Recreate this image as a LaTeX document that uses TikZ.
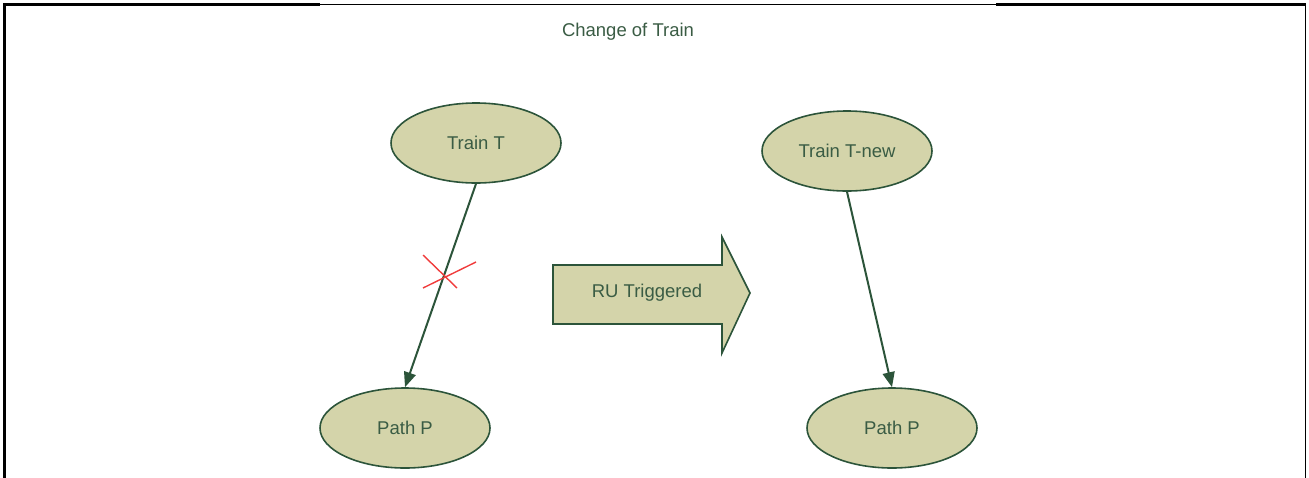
\documentclass[tikz,border=0pt]{standalone}
\usepackage{fontspec}
\setmainfont{Liberation Sans}
\usetikzlibrary{arrows.meta,shapes.geometric}
\definecolor{olivefill}{RGB}{212,212,170}
\definecolor{darkline}{RGB}{44,84,58}
\definecolor{labeltext}{RGB}{58,92,68}
\definecolor{crossred}{RGB}{240,60,60}
\tikzset{
  state/.style={ellipse, draw=darkline, line width=1.6pt, fill=olivefill,
    minimum width=170pt, minimum height=80pt, inner sep=0pt,
    text=labeltext, font=\fontsize{18.5}{22}\selectfont},
  conn/.style={draw=darkline, line width=2pt,
    -{Triangle[length=15pt,width=12pt]}},
  frame/.style={black, line cap=rect},
  blockarrow/.style={draw=darkline, line width=1.6pt, fill=olivefill, line join=miter},
  caption/.style={text=labeltext, font=\fontsize{18.5}{22}\selectfont}
}
\begin{document}
\begin{tikzpicture}[x=1pt,y=-1pt]
\useasboundingbox (0,0) rectangle (1309,477);
% outer frame (open at the bottom)
\draw[frame, line width=3pt] (4,477) -- (4,4) -- (318,4);
\draw[frame, line width=1.3pt] (318,4.5) -- (997,4.5);
\draw[frame, line width=3pt] (997,4) -- (1304,4);
\draw[frame, line width=1.5pt] (1305.5,4) -- (1305.5,477);
% title
\node[caption] (title) at (628,32) {Change of Train};
% states
\node[state] (trainT) at (476,143) {Train T};
\node[state] (pathL) at (405,428) {Path P};
\node[state] (trainTnew) at (847,151) {Train T-new};
\node[state] (pathR) at (892,428) {Path P};
% connectors
\draw[conn] (trainT.south) -- (pathL.north);
\draw[conn] (trainTnew.south) -- (pathR.north);
% the removed link
\draw[crossred, line width=1.4pt] (423,255) -- (457,288);
\draw[crossred, line width=1.4pt] (423,288) -- (476,262);
% transition block arrow
\draw[blockarrow] (553,265) -- (722,265) -- (722,237) -- (750,293)
  -- (722,353) -- (722,324) -- (553,324) -- cycle;
\node[caption] (ru) at (647,293) {RU Triggered};
\end{tikzpicture}
\end{document}
